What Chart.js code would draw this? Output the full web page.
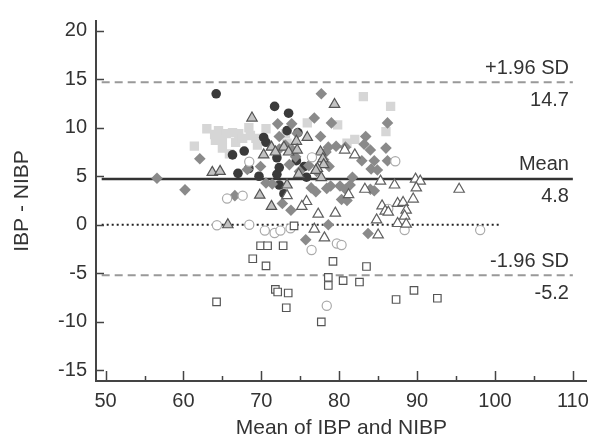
<!DOCTYPE html>
<html>
<head>
<meta charset="utf-8">
<script src="https://cdn.jsdelivr.net/npm/chart.js@4.4.1/dist/chart.umd.min.js"></script>
<style>
  html, body { margin: 0; padding: 0; background: #fff; }
  #wrap { width: 597px; height: 439px; }
</style>
</head>
<body>
<div id="wrap"><canvas id="baChart" width="597" height="439"></canvas></div>
<script>
// values (x = mean of IBP and NIBP, y = IBP - NIBP)
const darkCircleX = [64.2, 71.7, 73.5, 73.3, 74.7, 70.3, 70.6, 67.8, 66.3, 67.0, 68.4, 69.7, 72.0, 72.3, 75.5, 75.8, 72.3, 74.5, 72.0, 72.9];
const darkCircleY = [13.5, 12.2, 11.5, 9.7, 9.5, 9.0, 8.5, 7.6, 7.2, 5.3, 5.8, 5.0, 5.2, 4.1, 6.0, 4.9, 5.9, 6.6, 6.9, 3.2];

const lightSquareX = [63.0, 64.5, 64.1, 61.4, 65.0, 65.5, 66.3, 67.1, 65.0, 66.7, 65.9, 68.4, 68.6, 69.5, 70.6, 73.1, 73.3, 69.3, 75.9, 79.8, 81.0, 82.0, 83.1, 86.6, 86.0, 67.6, 64.0];
const lightSquareY = [9.9, 9.7, 8.7, 8.1, 7.9, 9.4, 9.5, 9.4, 8.8, 8.5, 7.3, 10.0, 9.2, 8.2, 9.9, 9.4, 8.4, 8.9, 10.5, 10.3, 8.4, 8.8, 13.2, 12.2, 9.6, 8.9, 9.3];

const diamondX = [56.6, 60.2, 62.1, 66.6, 77.7, 72.1, 73.9, 76.8, 79.0, 72.3, 74.6, 77.6, 83.4, 86.2, 83.2, 84.0, 86.0, 78.6, 79.6, 80.8,
  78.3, 82.9, 84.5, 86.2, 84.1, 84.9, 81.7, 81.4, 80.1, 78.9, 78.7, 78.0, 76.1, 77.1, 69.9, 68.2, 70.6, 71.4, 76.4, 77.0,
  78.4, 80.3, 81.0, 84.0, 84.5, 72.7, 73.8, 78.6, 75.7, 83.7, 72.3, 73.1, 74.0, 74.4, 73.6, 74.9, 80.8];
const diamondY = [4.8, 3.6, 6.8, 3.0, 13.5, 10.4, 10.4, 11.0, 10.5, 9.1, 9.4, 9.1, 9.1, 10.5, 8.3, 7.7, 7.9, 8.0, 8.1, 8.0,
  7.5, 6.6, 6.6, 6.6, 5.75, 5.65, 4.9, 4.1, 4.0, 4.0, 6.0, 6.7, 6.1, 5.5, 6.0, 5.7, 4.3, 4.2, 3.8, 3.4,
  3.75, 2.6, 2.5, 3.66, 3.5, 2.2, 1.5, 0.0, -1.55, -0.9, 7.8, 8.2, 7.7, 7.0, 6.2, 5.5, 3.66];

const grayTriangleX = [68.8, 79.4, 75.9, 74.5, 63.7, 64.7, 70.3, 71.3, 71.8, 72.9, 73.5, 74.6, 77.6, 77.9, 78.0, 77.2, 77.0, 77.7, 74.8, 73.3, 69.8, 71.3, 65.7];
const grayTriangleY = [11.0, 12.4, 9.0, 8.6, 5.4, 5.5, 7.2, 8.0, 7.5, 8.0, 7.5, 7.7, 7.5, 6.8, 6.2, 5.8, 5.6, 4.85, 5.2, 4.1, 3.05, 1.9, 0.0];

const openTriangleX = [80.7, 82.0, 85.3, 87.1, 89.8, 90.4, 89.9, 95.4, 83.3, 81.2, 89.5, 85.5, 87.5, 88.2, 85.9, 86.3, 88.6, 88.4, 84.8, 87.5,
  88.6, 85.0, 75.8, 75.2, 77.3, 79.5, 76.8, 78.1, 73.3];
const openTriangleY = [7.7, 7.2, 4.5, 4.1, 4.7, 4.5, 3.8, 3.66, 3.66, 3.1, 2.65, 1.95, 2.2, 2.3, 1.4, 1.3, 1.5, 0.9, 0.5, 0.13,
  0.06, -1.05, 2.4, 1.9, 1.1, 1.2, -0.45, -1.35, 3.0];

const openCircleX = [76.5, 68.45, 87.2, 65.6, 67.6, 64.3, 68.45, 70.45, 71.7, 72.45, 73.75, 79.7, 80.3, 76.45, 86.3, 88.4, 98.1, 78.4];
const openCircleY = [6.95, 6.5, 6.55, 2.7, 3.0, -0.05, 0.0, -0.6, -0.85, -0.6, -0.37, -1.93, -2.08, -2.6, 1.64, -0.55, -0.55, -8.34];

const openSquareX = [74.2, 69.9, 70.8, 72.8, 68.9, 70.6, 79.2, 83.5, 78.6, 78.6, 80.5, 82.6, 71.8, 72.1, 73.45, 64.25, 73.2, 77.7, 89.6, 87.3, 92.6];
const openSquareY = [-0.12, -2.16, -2.16, -2.16, -3.5, -4.24, -3.77, -4.3, -5.42, -6.26, -5.75, -5.9, -6.66, -6.93, -7.03, -7.94, -8.55, -10.0, -6.76, -7.7, -7.57];

// reference lines
const upperLimit = 14.7;
const meanLine = 4.72;
const lowerLimit = -5.2;
const limitLabels = ['+1.96 SD', 'Mean', '-1.96 SD'];
const limitValues = ['14.7', '4.8', '-5.2'];
const lineStartX = 49.5;
const lineEndX = 110;
const zeroEndX = 100.5;

const xTicks = [50, 60, 70, 80, 90, 100, 110];
const xMinorTicks = [55, 65, 75, 85, 95, 105];
const yTicks = [-15, -10, -5, 0, 5, 10, 15, 20];

const FONT = '"Liberation Sans", Arial, sans-serif';

function pts(xs, ys) {
  return xs.map((x, i) => ({ x: x, y: ys[i] }));
}
function hline(y, x0, x1) {
  return [{ x: x0, y: y }, { x: x1, y: y }];
}

// inward tick marks
const innerTicks = {
  id: 'innerTicks',
  afterDraw(chart) {
    const { ctx, chartArea, scales } = chart;
    ctx.save();
    ctx.strokeStyle = '#444';
    ctx.lineWidth = 1.5;
    ctx.beginPath();
    xTicks.forEach(v => {
      const px = Math.round(scales.x.getPixelForValue(v)) + 0.5;
      ctx.moveTo(px, chartArea.bottom);
      ctx.lineTo(px, chartArea.bottom - 10);
    });
    xMinorTicks.forEach(v => {
      const px = Math.round(scales.x.getPixelForValue(v)) + 0.5;
      ctx.moveTo(px, chartArea.bottom);
      ctx.lineTo(px, chartArea.bottom - 5);
    });
    yTicks.forEach(v => {
      const py = Math.round(scales.y.getPixelForValue(v)) + 0.5;
      ctx.moveTo(chartArea.left, py);
      ctx.lineTo(chartArea.left + 8, py);
    });
    ctx.stroke();
    ctx.restore();
  }
};

// text next to the limit lines
const limitText = {
  id: 'limitText',
  afterDatasetsDraw(chart) {
    const { ctx, scales } = chart;
    const lines = [upperLimit, meanLine, lowerLimit];
    const px = scales.x.getPixelForValue(109.5);
    ctx.save();
    ctx.font = '20px ' + FONT;
    ctx.fillStyle = '#333';
    ctx.textAlign = 'right';
    ctx.textBaseline = 'middle';
    lines.forEach((v, i) => {
      const py = scales.y.getPixelForValue(v);
      ctx.fillText(limitLabels[i], px, py - 14);
      ctx.fillText(limitValues[i], px, py + 18);
    });
    ctx.restore();
  }
};

const lineBase = { type: 'line', showLine: true, pointRadius: 0, fill: false };

new Chart(document.getElementById('baChart'), {
  type: 'scatter',
  data: {
    datasets: [
      { label: 'open squares', data: pts(openSquareX, openSquareY), pointStyle: 'rect', pointRadius: 5.3, backgroundColor: '#fff', borderColor: '#555', borderWidth: 1.2 },
      { label: 'open triangles', data: pts(openTriangleX, openTriangleY), pointStyle: 'triangle', pointRadius: 6, backgroundColor: '#fff', borderColor: '#606060', borderWidth: 1.2 },
      { label: 'open circles', data: pts(openCircleX, openCircleY), pointStyle: 'circle', pointRadius: 4.6, backgroundColor: '#fff', borderColor: '#aaa', borderWidth: 1.2 },
      { label: 'gray triangles', data: pts(grayTriangleX, grayTriangleY), pointStyle: 'triangle', pointRadius: 6, backgroundColor: '#c2c2c2', borderColor: '#555', borderWidth: 1.2 },
      { label: 'diamonds', data: pts(diamondX, diamondY), pointStyle: 'rectRot', pointRadius: 5.8, backgroundColor: '#8a8a8a', borderColor: '#8a8a8a', borderWidth: 0 },
      { label: 'dark circles', data: pts(darkCircleX, darkCircleY), pointStyle: 'circle', pointRadius: 4.8, backgroundColor: '#3a3a3a', borderColor: '#3a3a3a', borderWidth: 0 },
      { label: 'light squares', data: pts(lightSquareX, lightSquareY), pointStyle: 'rect', pointRadius: 6.6, backgroundColor: '#d6d6d6', borderColor: '#d6d6d6', borderWidth: 0 },
      Object.assign({ label: 'mean', data: hline(meanLine, lineStartX, lineEndX), borderColor: '#333', borderWidth: 2.5 }, lineBase),
      Object.assign({ label: 'zero', data: hline(0, lineStartX, zeroEndX), borderColor: '#222', borderWidth: 2, borderDash: [2, 3] }, lineBase),
      Object.assign({ label: 'upper', data: hline(upperLimit, lineStartX, lineEndX), borderColor: '#999', borderWidth: 2, borderDash: [8, 5] }, lineBase),
      Object.assign({ label: 'lower', data: hline(lowerLimit, lineStartX, lineEndX), borderColor: '#999', borderWidth: 2, borderDash: [8, 5] }, lineBase)
    ]
  },
  options: {
    responsive: false,
    animation: false,
    layout: { padding: { left: 0, right: 6, top: 13, bottom: 0 } },
    plugins: {
      legend: { display: false },
      tooltip: { enabled: false }
    },
    scales: {
      x: {
        type: 'linear',
        min: 48.77,
        max: 111.78,
        grid: { display: false, drawTicks: false },
        border: { display: true, color: '#444', width: 2 },
        ticks: { stepSize: 10, includeBounds: false, color: '#333', padding: 8, font: { family: FONT, size: 20 } },
        title: { display: true, text: 'Mean of IBP and NIBP', color: '#333', padding: { top: 0, bottom: 0 }, font: { family: FONT, size: 21, lineHeight: 1 } },
        afterFit(scale) { scale.height = 58; }
      },
      y: {
        type: 'linear',
        min: -16.1,
        max: 21,
        grid: { display: false, drawTicks: false },
        border: { display: true, color: '#444', width: 2 },
        ticks: { stepSize: 5, includeBounds: false, color: '#333', padding: 9, font: { family: FONT, size: 20 } },
        title: { display: true, text: 'IBP - NIBP', color: '#333', padding: { top: 12, bottom: 0 }, font: { family: FONT, size: 21, lineHeight: 1 } },
        afterFit(scale) { scale.width = 96; }
      }
    }
  },
  plugins: [innerTicks, limitText]
});
</script>
</body>
</html>
